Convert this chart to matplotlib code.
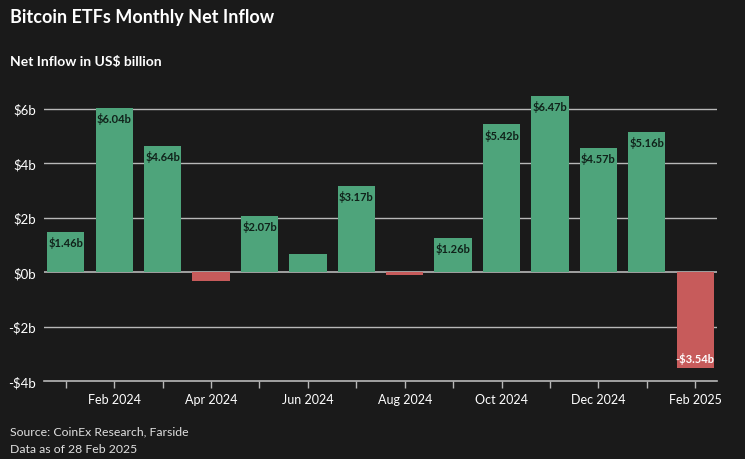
import matplotlib.pyplot as plt

# monthly net inflow, US$ billion
months = ["Jan 2024", "Feb 2024", "Mar 2024", "Apr 2024", "May 2024", "Jun 2024",
          "Jul 2024", "Aug 2024", "Sep 2024", "Oct 2024", "Nov 2024", "Dec 2024",
          "Jan 2025", "Feb 2025"]
inflow = [1.46, 6.04, 4.64, -0.34, 2.07, 0.65, 3.17, -0.12, 1.26, 5.42, 6.47, 4.57, 5.16, -3.54]
labelled = [True, True, True, False, True, False, True, False, True, True, True, True, True, True]
yticks = [-4, -2, 0, 2, 4, 6]

bg = "#1a1a1a"
green = "#4ea47b"
red = "#c75b5b"
grey = "#b8b8b8"

plt.rcParams['font.family'] = ['Lato', 'DejaVu Sans']

fig = plt.figure(figsize=(7.45, 4.6), dpi=100, facecolor=bg)
ax = fig.add_axes([44 / 745, 1 - 382 / 460, (717 - 44) / 745, (382 - 92) / 460])
ax.set_facecolor(bg)

x = list(range(len(months)))
colors = [green if v >= 0 else red for v in inflow]
ax.bar(x, inflow, width=0.77, color=colors, zorder=3)

for i, v in enumerate(inflow):
    if not labelled[i]:
        continue
    txt = ("-$%.2fb" % abs(v)) if v < 0 else ("$%.2fb" % v)
    if v >= 0:
        ax.annotate(txt, (i, v), xytext=(0, -3), textcoords="offset points",
                    ha="center", va="top", fontsize=8, fontweight="bold",
                    color="#10221a", zorder=4)
    else:
        ax.annotate(txt, (i, v), xytext=(0, 3), textcoords="offset points",
                    ha="center", va="bottom", fontsize=8, fontweight="bold",
                    color="white", zorder=4)

ax.set_xlim(-0.45, len(months) - 1 + 0.45)
ax.set_ylim(-4, 6.65)
ax.set_yticks(yticks)
ax.set_yticklabels([("-$%db" % abs(t)) if t < 0 else ("$%db" % t) for t in yticks],
                   color="white", fontsize=9.5)
for t in yticks[1:]:
    ax.axhline(t, color=grey, lw=1.2 if t == 0 else 1.0, zorder=1)

ax.set_xticks(x)
ax.set_xticklabels([m if i % 2 == 1 else "" for i, m in enumerate(months)],
                   color="white", fontsize=9)
ax.tick_params(axis="x", colors=grey, labelcolor="white", length=5, width=1, pad=4)
ax.tick_params(axis="y", length=0, pad=6)

for s in ["top", "right", "left"]:
    ax.spines[s].set_visible(False)
ax.spines["bottom"].set_color(grey)
ax.spines["bottom"].set_linewidth(1.2)

fig.text(10 / 745, 1 - 18 / 460, "Bitcoin ETFs Monthly Net Inflow", color="white",
         fontsize=13, fontweight="bold", va="center", ha="left")
fig.text(10 / 745, 1 - 62 / 460, "Net Inflow in US$ billion", color="white",
         fontsize=10, fontweight="bold", va="center", ha="left")
fig.text(10 / 745, 1 - 432 / 460, "Source: CoinEx Research, Farside", color="#e0e0e0",
         fontsize=8.8, va="center", ha="left")
fig.text(10 / 745, 1 - 450 / 460, "Data as of 28 Feb 2025", color="#e0e0e0",
         fontsize=8.8, va="center", ha="left")

fig.savefig("out.png", dpi=100, facecolor=bg)
